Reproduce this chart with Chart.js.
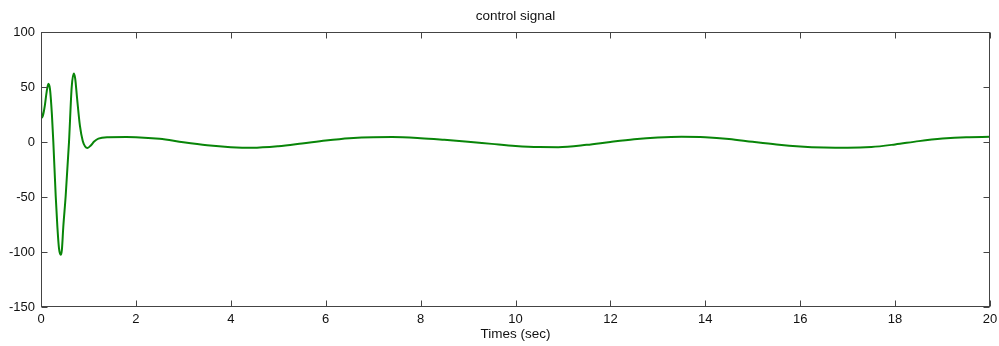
<!DOCTYPE html>
<html>
<head>
<meta charset="utf-8">
<title>control signal</title>
<script src="https://cdn.jsdelivr.net/npm/chart.js@4.4.1/dist/chart.umd.min.js"></script>
<style>
  html, body { margin: 0; padding: 0; background: #ffffff; }
  #wrap { width: 999px; height: 346px; position: relative; }
</style>
</head>
<body>
<div id="wrap"><canvas id="c" width="999" height="346"></canvas></div>
<script>
// Time samples (sec) of the control signal
const timeSec = [
  0, 0.01, 0.04, 0.08, 0.12, 0.155, 0.19, 0.23, 0.26, 0.31, 0.345, 0.38, 0.415, 0.44,
  0.47, 0.52, 0.59, 0.647, 0.69, 0.72, 0.76, 0.82, 0.88, 0.93, 0.98, 1.05, 1.12, 1.21,
  1.42, 1.8, 2.0, 2.5, 3.0, 3.5, 4.0, 4.45, 5.0, 5.5, 6.0, 6.5, 7.0, 7.4, 8.0, 8.5,
  9.0, 9.5, 10.0, 10.5, 10.9, 11.5, 12.0, 12.5, 13.0, 13.5, 14.0, 14.5, 15.0, 15.5,
  16.0, 16.5, 17.0, 17.5, 18.0, 18.5, 19.0, 19.5, 20
];
// Control signal amplitude at each time sample
const controlSignal = [
  50, 22, 24, 33, 46, 53, 48, 25, 0, -49, -77, -97, -102.5, -98,
  -77, -49, 0, 50, 62.4, 58, 40, 15, 1, -4, -5.3, -3, 0.5, 3.2,
  4.4, 4.6, 4.5, 3.0, -0.2, -2.9, -4.6, -5.2, -3.8, -1.3, 1.4, 3.5, 4.5, 4.6, 3.6, 2.1,
  0.4, -1.6, -3.5, -4.5, -4.6, -2.5, 0.2, 2.6, 4.2, 4.9, 4.5, 2.9, 0.3, -2.1,
  -3.9, -4.9, -5.2, -4.5, -2.1, 0.9, 3.2, 4.5, 4.8
];
// Axis tick values
const xTicks = [0, 2, 4, 6, 8, 10, 12, 14, 16, 18, 20];
const yTicks = [-150, -100, -50, 0, 50, 100];

const FONT = "'Liberation Sans', Arial, sans-serif";
const AXIS_COLOR = '#444444';
const TEXT_COLOR = '#111111';

const points = timeSec.map((t, i) => ({ x: t, y: controlSignal[i] }));

// Box frame with inward tick marks on all four sides
const framePlugin = {
  id: 'boxFrame',
  afterDraw(chart) {
    const { ctx, chartArea: a, scales } = chart;
    const len = 6;
    ctx.save();
    ctx.strokeStyle = AXIS_COLOR;
    ctx.lineWidth = 1;
    const L = Math.round(a.left) + 0.5, R = Math.round(a.right) - 0.5;
    const T = Math.round(a.top) + 0.5, B = Math.round(a.bottom) - 0.5;
    ctx.strokeRect(L, T, R - L, B - T);
    ctx.beginPath();
    xTicks.forEach(v => {
      const px = Math.round(scales.x.getPixelForValue(v)) + 0.5;
      ctx.moveTo(px, B); ctx.lineTo(px, B - len);
      ctx.moveTo(px, T); ctx.lineTo(px, T + len);
    });
    yTicks.forEach(v => {
      const py = Math.round(scales.y.getPixelForValue(v)) + 0.5;
      ctx.moveTo(L, py); ctx.lineTo(L + len, py);
      ctx.moveTo(R, py); ctx.lineTo(R - len, py);
    });
    ctx.stroke();
    ctx.restore();
  }
};

new Chart(document.getElementById('c'), {
  type: 'line',
  data: {
    datasets: [{
      data: points,
      borderColor: '#088508',
      borderWidth: 2,
      pointRadius: 0,
      fill: false,
      cubicInterpolationMode: 'monotone'
    }]
  },
  options: {
    responsive: false,
    animation: false,
    devicePixelRatio: 1,
    layout: { padding: { left: 0, right: 9, top: 0, bottom: 0 } },
    plugins: {
      legend: { display: false },
      tooltip: { enabled: false },
      title: {
        display: true,
        fullSize: false,
        text: 'control signal',
        color: TEXT_COLOR,
        font: { family: FONT, size: 13.5, weight: 'normal' },
        padding: { top: 8, bottom: 8 }
      }
    },
    scales: {
      x: {
        type: 'linear',
        min: 0,
        max: 20,
        afterFit(s) { s.height = 39; s.paddingLeft = 0; s.paddingRight = 0; },
        afterBuildTicks(s) { s.ticks = xTicks.map(v => ({ value: v })); },
        grid: { display: false, drawTicks: false },
        border: { display: false },
        ticks: {
          color: TEXT_COLOR,
          padding: 5,
          maxRotation: 0,
          font: { family: FONT, size: 13 }
        },
        title: {
          display: true,
          text: 'Times (sec)',
          color: TEXT_COLOR,
          font: { family: FONT, size: 13.5 },
          padding: { top: 0, bottom: 4 }
        }
      },
      y: {
        type: 'linear',
        min: -150,
        max: 100,
        afterFit(s) { s.width = 41; },
        afterBuildTicks(s) { s.ticks = yTicks.map(v => ({ value: v })); },
        grid: { display: false, drawTicks: false },
        border: { display: false },
        ticks: {
          color: TEXT_COLOR,
          padding: 6,
          font: { family: FONT, size: 13 }
        }
      }
    }
  },
  plugins: [framePlugin]
});
</script>
</body>
</html>
